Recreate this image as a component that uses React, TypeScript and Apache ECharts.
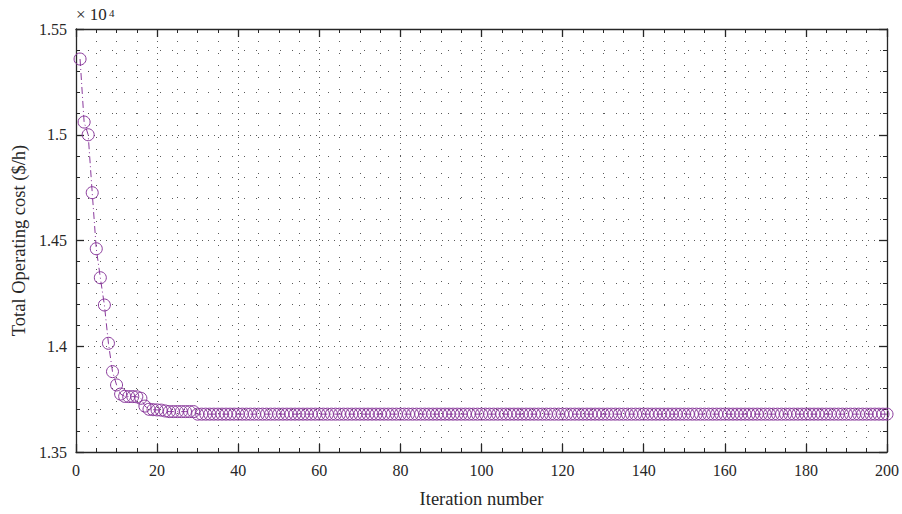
import React, { useEffect, useRef } from "react";
import * as echarts from "echarts";

// Total operating cost ($/h) for iterations 1..200
const costValues: number[] = [
  15358, 15060, 15000, 14726, 14461, 14324, 14195, 14014, 13880, 13817,
  13774, 13763, 13762, 13762, 13761, 13754, 13717, 13702, 13700, 13699,
  13698, 13694, 13691, 13691, 13691, 13691, 13691, 13691, 13691, 13679,
  13679, 13679, 13679, 13679, 13679, 13679, 13679, 13679, 13679, 13679,
  13679, 13679, 13679, 13679, 13679, 13679, 13679, 13679, 13679, 13679,
  13679, 13679, 13679, 13679, 13679, 13679, 13679, 13679, 13679, 13679,
  13679, 13679, 13679, 13679, 13679, 13679, 13679, 13679, 13679, 13679,
  13679, 13679, 13679, 13679, 13679, 13679, 13679, 13679, 13679, 13679,
  13679, 13679, 13679, 13679, 13679, 13679, 13679, 13679, 13679, 13679,
  13679, 13679, 13679, 13679, 13679, 13679, 13679, 13679, 13679, 13679,
  13679, 13679, 13679, 13679, 13679, 13679, 13679, 13679, 13679, 13679,
  13679, 13679, 13679, 13679, 13679, 13679, 13679, 13679, 13679, 13679,
  13679, 13679, 13679, 13679, 13679, 13679, 13679, 13679, 13679, 13679,
  13679, 13679, 13679, 13679, 13679, 13679, 13679, 13679, 13679, 13679,
  13679, 13679, 13679, 13679, 13679, 13679, 13679, 13679, 13679, 13679,
  13679, 13679, 13679, 13679, 13679, 13679, 13679, 13679, 13679, 13679,
  13679, 13679, 13679, 13679, 13679, 13679, 13679, 13679, 13679, 13679,
  13679, 13679, 13679, 13679, 13679, 13679, 13679, 13679, 13679, 13679,
  13679, 13679, 13679, 13679, 13679, 13679, 13679, 13679, 13679, 13679,
  13679, 13679, 13679, 13679, 13679, 13679, 13679, 13679, 13679, 13679,
];

const xMin = 0;
const xMax = 200;
const xStep = 20;
const yMin = 13500;
const yMax = 15500;
const yStep = 500;

const xTitle = "Iteration number";
const yTitle = "Total Operating cost ($/h)";
const scaleText = "× 10";
const scaleExp = "4";

const FONT = "Liberation Serif";
const AXIS_COLOR = "#262626";
const GRID_COLOR = "#5a5a5a";
const PURPLE = "#8a3a9c";

export default function App() {
  const ref = useRef<HTMLDivElement>(null);

  useEffect(() => {
    if (!ref.current) return;
    const chart = echarts.init(ref.current, undefined, { renderer: "svg" });

    const axisLine = { show: true, onZero: false, lineStyle: { color: AXIS_COLOR, width: 1.3 } };
    const axisTick = { show: true, inside: true, length: 8, lineStyle: { color: AXIS_COLOR, width: 1.3 } };
    const minorTickX = { show: true, splitNumber: 4, length: 4, lineStyle: { color: AXIS_COLOR, width: 1 } };
    const minorTickY = { show: true, splitNumber: 5, length: 4, lineStyle: { color: AXIS_COLOR, width: 1 } };
    const labelStyle = { fontFamily: FONT, fontSize: 16, color: AXIS_COLOR };
    const titleStyle = { fontFamily: FONT, fontSize: 18.5, color: AXIS_COLOR };

    const data = costValues.map((v, i) => [i + 1, v]);

    chart.setOption({
      animation: false,
      backgroundColor: "#ffffff",
      title: [
        {
          text: scaleText,
          left: 76,
          top: 6,
          padding: 0,
          textStyle: { fontFamily: FONT, fontSize: 17, fontWeight: "normal", color: AXIS_COLOR },
        },
        {
          text: scaleExp,
          left: 109,
          top: 7,
          padding: 0,
          textStyle: { fontFamily: FONT, fontSize: 11, fontWeight: "normal", color: AXIS_COLOR },
        },
      ],
      grid: { left: 76, right: 14, top: 29, bottom: 62, containLabel: false },
      xAxis: [
        {
          type: "value",
          min: xMin,
          max: xMax,
          interval: xStep,
          position: "bottom",
          axisLine,
          axisTick,
          minorTick: minorTickX,
          axisLabel: { ...labelStyle, margin: 10 },
          splitLine: { show: true, lineStyle: { type: [1, 5], color: GRID_COLOR, width: 1 } },
          minorSplitLine: { show: true, lineStyle: { type: [1, 11], color: GRID_COLOR, width: 1 } },
          name: xTitle,
          nameLocation: "middle",
          nameGap: 37,
          nameTextStyle: titleStyle,
        },
        {
          type: "value",
          min: xMin,
          max: xMax,
          interval: xStep,
          position: "top",
          axisLine,
          axisTick,
          minorTick: minorTickX,
          axisLabel: { show: false },
          splitLine: { show: false },
        },
      ],
      yAxis: [
        {
          type: "value",
          min: yMin,
          max: yMax,
          interval: yStep,
          position: "left",
          axisLine,
          axisTick,
          minorTick: minorTickY,
          axisLabel: {
            ...labelStyle,
            margin: 9,
            formatter: (v: number) => String(+(v / 1e4).toFixed(4)),
          },
          splitLine: { show: true, lineStyle: { type: [1, 5], color: GRID_COLOR, width: 1 } },
          minorSplitLine: { show: true, lineStyle: { type: [1, 11], color: GRID_COLOR, width: 1 } },
          name: yTitle,
          nameLocation: "middle",
          nameGap: 46,
          nameTextStyle: titleStyle,
        },
        {
          type: "value",
          min: yMin,
          max: yMax,
          interval: yStep,
          position: "right",
          axisLine,
          axisTick,
          minorTick: minorTickY,
          axisLabel: { show: false },
          splitLine: { show: false },
        },
      ],
      series: [
        {
          type: "line",
          xAxisIndex: 0,
          yAxisIndex: 0,
          data,
          symbol: "circle",
          symbolSize: 12,
          showAllSymbol: true,
          lineStyle: { color: PURPLE, width: 1, type: [7, 3, 1, 3] },
          itemStyle: { color: "rgba(0,0,0,0)", borderColor: PURPLE, borderWidth: 1 },
          emphasis: { disabled: true },
          z: 5,
        },
      ],
    });

    return () => chart.dispose();
  }, []);

  return (
    <div
      ref={ref}
      style={{ position: "absolute", left: 0, top: 0, width: 902, height: 514 }}
    />
  );
}
